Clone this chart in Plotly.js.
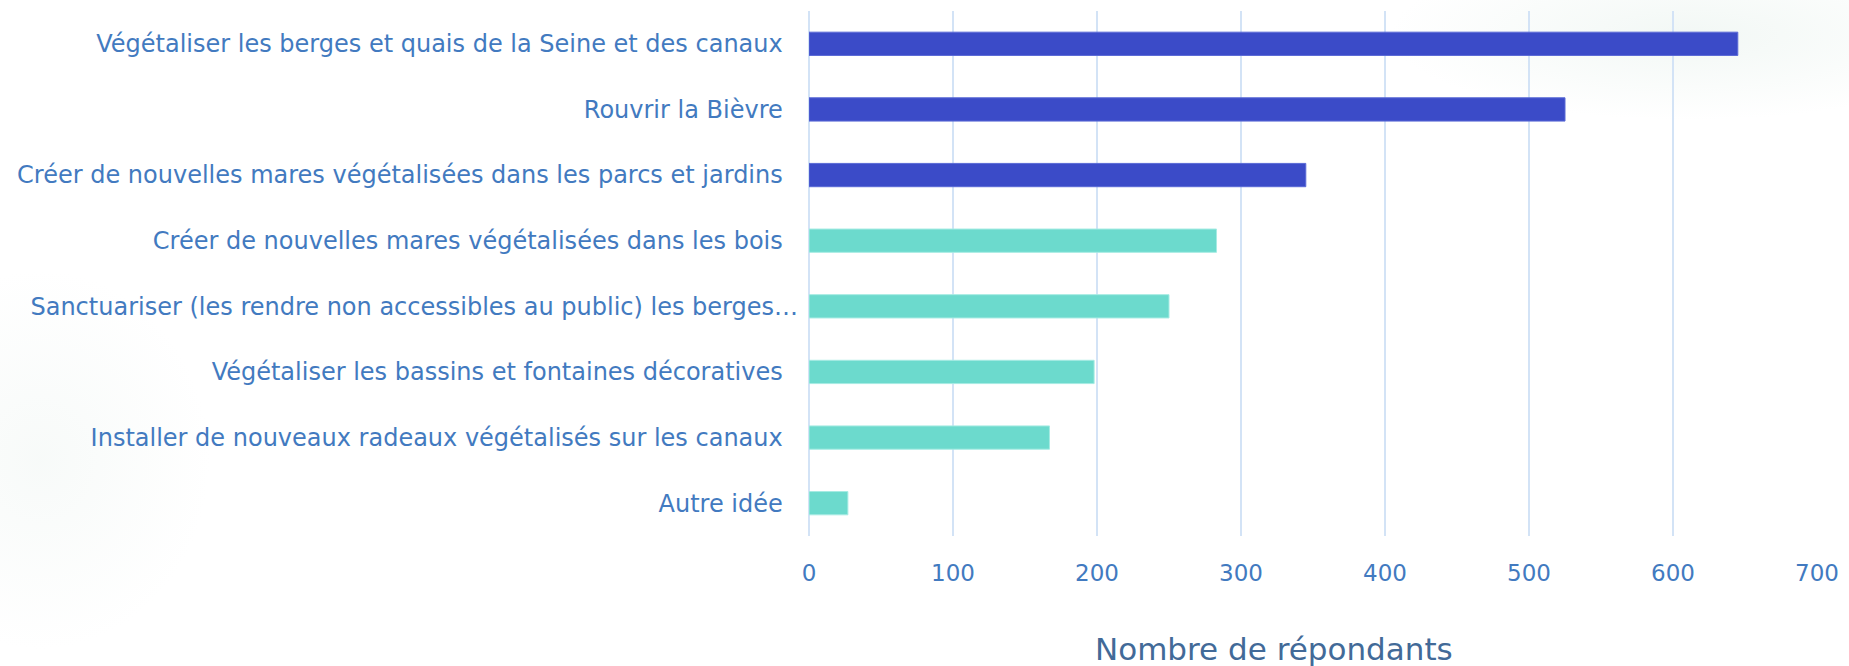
<!DOCTYPE html>
<html>
<head>
<meta charset="utf-8">
<script src="https://cdn.plot.ly/plotly-3.0.1.min.js"></script>
<style>
  html, body { margin: 0; padding: 0; }
  body {
    width: 1849px; height: 666px; overflow: hidden;
    background:
      radial-gradient(ellipse 300px 85px at 1690px 35px, rgba(218,234,226,0.35), rgba(255,255,255,0) 100%),
      radial-gradient(ellipse 170px 190px at 40px 460px, rgba(228,238,233,0.28), rgba(255,255,255,0) 100%),
      #ffffff;
  }
  #chart { width: 1849px; height: 666px; }
</style>
</head>
<body>
<div id="chart"></div>
<script>
const categories = [
  "Végétaliser les berges et quais de la Seine et des canaux",
  "Rouvrir la Bièvre",
  "Créer de nouvelles mares végétalisées dans les parcs et jardins",
  "Créer de nouvelles mares végétalisées dans les bois",
  "Sanctuariser (les rendre non accessibles au public) les berges…",
  "Végétaliser les bassins et fontaines décoratives",
  "Installer de nouveaux radeaux végétalisés sur les canaux",
  "Autre idée"
];
const respondents = [645, 525, 345, 283, 250, 198, 167, 27];
const xTicks = [0, 100, 200, 300, 400, 500, 600, 700];
const xTitle = "Nombre de répondants";

const DARK = "#3b4bc8", TEAL = "#6cdacd";
const colors = respondents.map((v, i) => i < 3 ? DARK : TEAL);
const lineColors = respondents.map((v, i) => i < 3 ? "#5a6ad6" : "#a6ebe3");
// labels without the trailing ellipsis carry a small right padding, as in the source
const yTickText = categories.map(c => c.endsWith("…") ? c : c + "\u00a0\u00a0");

const FONT = "'DejaVu Sans', sans-serif";
const LABEL = "rgb(66,122,192)";

Plotly.newPlot("chart", [{
  type: "bar",
  orientation: "h",
  y: categories,
  x: respondents,
  marker: { color: colors, line: { color: lineColors, width: 1 } },
  hoverinfo: "x+y"
}], {
  width: 1849, height: 666,
  margin: { l: 809, r: 32, t: 11, b: 130, pad: 0 },
  paper_bgcolor: "rgba(0,0,0,0)",
  plot_bgcolor: "rgba(0,0,0,0)",
  bargap: 0.645,
  showlegend: false,
  font: { family: FONT, color: LABEL, size: 22 },
  xaxis: {
    range: [0, 700],
    tickvals: xTicks,
    ticktext: xTicks.map(String),
    showgrid: true, gridcolor: "#d3e3f6", gridwidth: 1.5,
    zeroline: true, zerolinecolor: "#d3e3f6", zerolinewidth: 1.5,
    showline: false, ticks: "",
    ticklabelstandoff: 21,
    tickfont: { family: FONT, size: 23, color: LABEL }
  },
  yaxis: {
    type: "category",
    autorange: "reversed",
    tickvals: categories,
    ticktext: yTickText,
    showgrid: false, showline: false, ticks: "",
    ticklabelstandoff: 10,
    tickfont: { family: FONT, size: 24, color: LABEL }
  },
  annotations: [{
    text: xTitle,
    xref: "paper", yref: "paper",
    x: 0.4615, y: -0.215,
    xanchor: "center", yanchor: "middle",
    showarrow: false,
    font: { family: FONT, size: 31, color: "rgb(66,106,152)" }
  }]
}, { displayModeBar: false, staticPlot: true });
</script>
</body>
</html>
